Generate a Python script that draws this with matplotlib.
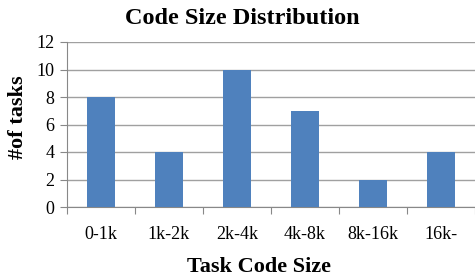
import matplotlib.pyplot as plt
import numpy as np

# Datos
categorias = ['0-1k', '1k-2k', '2k-4k', '4k-8k', '8k-16k', '16k-']
tareas = [8, 4, 10, 7, 2, 4]

plt.rcParams['font.family'] = ['Liberation Serif', 'DejaVu Serif']

fig = plt.figure(figsize=(4.75, 2.79), dpi=100)
ax = fig.add_axes([67 / 475, 1 - 207 / 279, 408 / 475, 165 / 279])

x = np.arange(len(categorias))
ax.bar(x, tareas, width=0.4, color='#4f81bd', zorder=3)

ax.set_xlim(-0.5, len(categorias) - 0.5)
ax.set_ylim(0, 12)
ax.set_yticks(range(0, 13, 2))
ax.yaxis.grid(True, color='#a0a0a0', linewidth=1, zorder=0)

ax.set_xticks(np.arange(-0.5, len(categorias), 1))
ax.set_xticklabels([])
ax.set_xticks(x, minor=True)
ax.set_xticklabels(categorias, minor=True, fontsize=13)
ax.tick_params(axis='x', which='major', length=5, color='#888888', direction='out')
ax.tick_params(axis='x', which='minor', length=0, pad=14)
ax.tick_params(axis='y', length=5, color='#888888', labelsize=13, pad=4)

for s in ['top', 'right']:
    ax.spines[s].set_visible(False)
for s in ['left', 'bottom']:
    ax.spines[s].set_color('#888888')

ax.set_title('Code Size Distribution', fontsize=17.5, fontweight='bold', pad=13, x=0.429)
ax.set_xlabel('Task Code Size', fontsize=16, fontweight='bold', labelpad=10)
ax.xaxis.label.set_x(0.47)
ax.set_ylabel('#of tasks', fontsize=16, fontweight='bold')
ax.yaxis.set_label_coords(-0.096, 0.545)

plt.savefig('out.png', dpi=100)
plt.close()
